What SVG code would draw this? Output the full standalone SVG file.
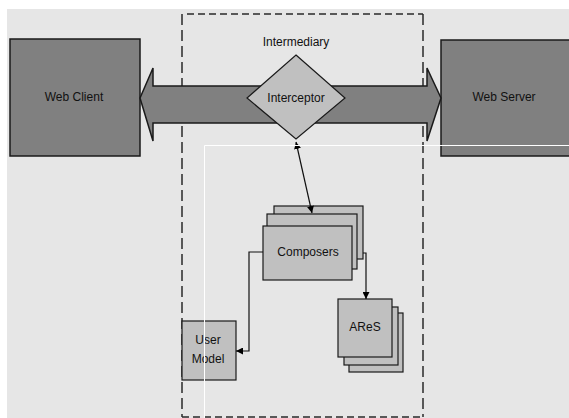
<svg xmlns="http://www.w3.org/2000/svg" width="569" height="418" viewBox="0 0 569 418">
<style>
.dark{fill:#808080;stroke:#1a1a1a;stroke-width:1.5}
.light{fill:#c0c0c0;stroke:#1a1a1a;stroke-width:1.2}
.lbl{font-family:"Liberation Sans",Arial,sans-serif;font-size:12px;fill:#111;text-anchor:middle;dominant-baseline:central}
.conn{fill:none;stroke:#111;stroke-width:1.2}
.dash{fill:none;stroke:#2a2a2a;stroke-width:1.5}
</style>
<defs>
<marker id="ah" viewBox="0 0 10 10" refX="10" refY="5" markerWidth="7" markerHeight="7" markerUnits="userSpaceOnUse" orient="auto-start-reverse">
<path d="M0,0 L10,5 L0,10 z" fill="#000"/>
</marker>
</defs>
<rect x="0" y="0" width="569" height="418" fill="#ffffff"/>
<rect x="7" y="9" width="562" height="409" fill="#e6e6e6"/>
<g id="intermediary">
<path class="dash" d="M187,14 H423 M182,417 H423" stroke-dasharray="7 4"/>
<path class="dash" d="M182,14 V417 M423,14 V417" stroke-dasharray="11 5"/>
<text class="lbl" x="296" y="42">Intermediary</text>
</g>
<g id="web-client">
<rect class="dark" x="10" y="39" width="130" height="117"/>
<text class="lbl" x="74" y="97">Web Client</text>
</g>
<g id="web-server">
<rect class="dark" x="441" y="40" width="135" height="116"/>
<text class="lbl" x="504" y="97">Web Server</text>
</g>
<g id="connectors">
<polygon class="dark" stroke-width="1.2" points="140,98 153,68 153,86 427,86 427,68 441,98 427,141 427,123 153,123 153,141"/>
</g>
<g id="interceptor">
<polygon class="light" points="296,55 345,98 296,139 247,98"/>
<text class="lbl" x="296" y="98">Interceptor</text>
</g>
<g id="composers">
<rect class="light" x="274" y="206" width="89" height="53"/>
<rect class="light" x="267" y="214" width="90" height="55"/>
<rect class="light" x="263" y="226" width="89" height="54"/>
<text class="lbl" x="308" y="252">Composers</text>
</g>
<g id="ares">
<rect class="light" x="349" y="313" width="54" height="59"/>
<rect class="light" x="344" y="307" width="54" height="58"/>
<rect class="light" x="338" y="299" width="54" height="58"/>
<text class="lbl" x="365" y="327">AReS</text>
</g>
<g id="user-model">
<rect class="light" x="182" y="321" width="54" height="59"/>
<text class="lbl" x="208" y="340">User</text>
<text class="lbl" x="208" y="359">Model</text>
</g>
<g id="links">
<path class="conn" d="M296,142 L312,213" marker-start="url(#ah)" marker-end="url(#ah)"/>
<path class="conn" d="M363,253 H366 V299" marker-end="url(#ah)"/>
<path class="conn" d="M263,252 H249 V351 H236" marker-end="url(#ah)"/>
</g>
<g id="artifacts">
<path d="M204.5,418 V145.5 H569" fill="none" stroke="#ffffff" stroke-width="1"/>
</g>
</svg>
